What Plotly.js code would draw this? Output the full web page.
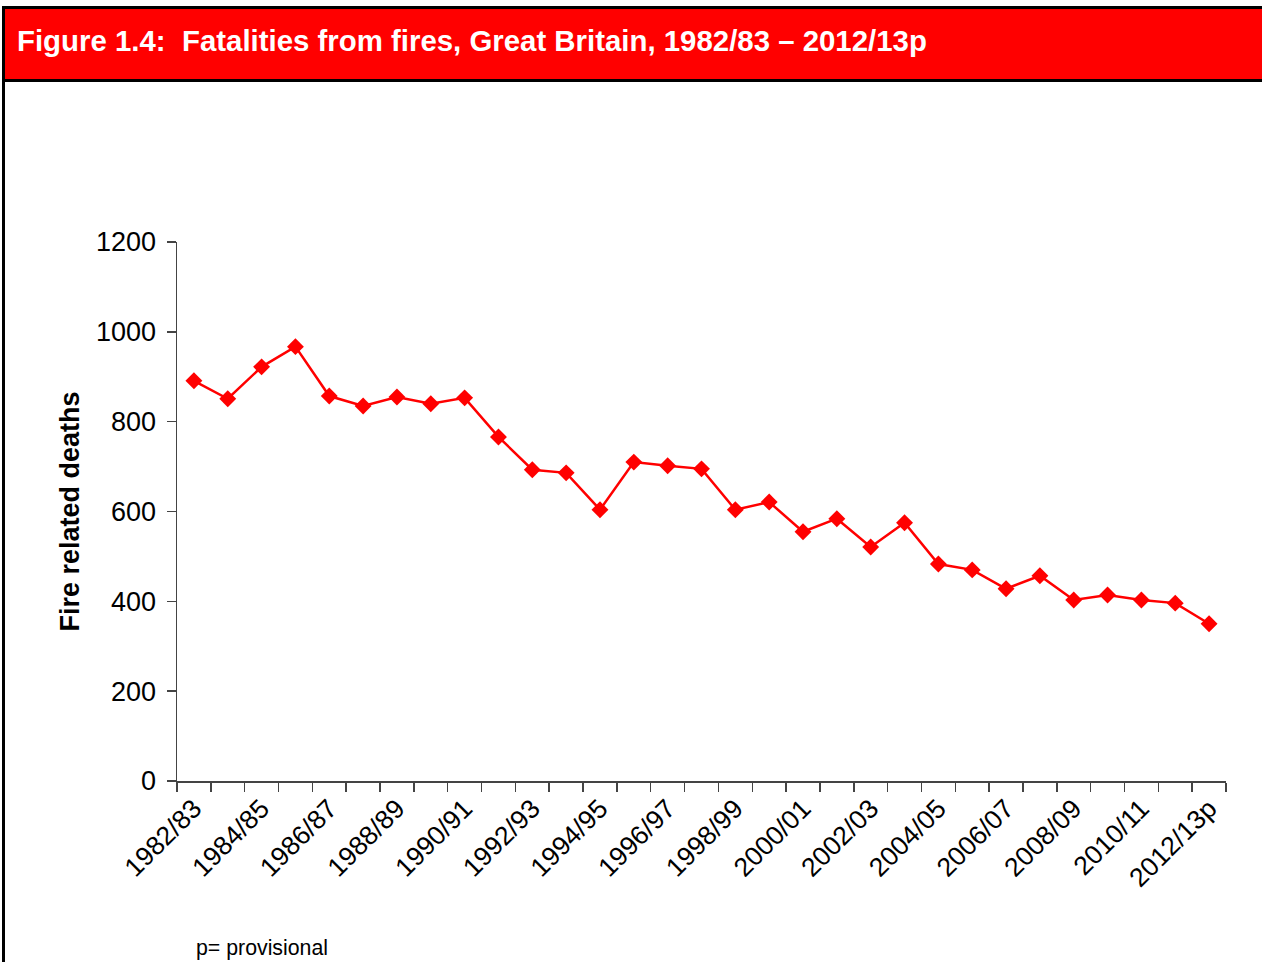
<!DOCTYPE html>
<html>
<head>
<meta charset="utf-8">
<script src="https://cdn.plot.ly/plotly-3.0.1.min.js"></script>
<style>
  html, body { margin: 0; padding: 0; width: 1262px; height: 962px; overflow: hidden; background: #fff; }
  #chart { position: absolute; left: 0; top: 0; width: 1262px; height: 962px; }
  #header { position: absolute; left: 2px; top: 6px; width: 1270px; height: 70px; background: #FF0000;
            border: 3px solid #000; border-right: none; z-index: 5; box-sizing: content-box;
            font-family: "Liberation Sans", Arial, sans-serif; font-weight: bold; font-size: 29.4px; color: #fff;
            white-space: pre; line-height: 64px; padding-left: 12px; }
  #leftline { position: absolute; left: 2px; top: 6px; width: 3px; height: 956px; background: #000; z-index: 4; }
</style>
</head>
<body>
<div id="chart"></div>
<div id="leftline"></div>
<div id="header">Figure 1.4:  Fatalities from fires, Great Britain, 1982/83 – 2012/13p</div>
<script>
const categories = ["1982/83","1983/84","1984/85","1985/86","1986/87","1987/88","1988/89","1989/90","1990/91","1991/92",
  "1992/93","1993/94","1994/95","1995/96","1996/97","1997/98","1998/99","1999/00","2000/01","2001/02",
  "2002/03","2003/04","2004/05","2005/06","2006/07","2007/08","2008/09","2009/10","2010/11","2011/12","2012/13p"];
const deaths = [891, 851, 922, 967, 857, 835, 855, 840, 853, 766,
  693, 686, 604, 710, 702, 695, 604, 621, 555, 584,
  521, 575, 483, 470, 428, 457, 403, 414, 403, 396, 350];
const yTicks = [0, 200, 400, 600, 800, 1000, 1200];
const yTitle = "Fire related deaths";
const footnote = "p= provisional";

const xIdx = categories.map((_, i) => i);
const labelIdx = xIdx.filter(i => i % 2 === 0);
const labelText = labelIdx.map(i => categories[i]);
const boundaries = Array.from({length: categories.length + 1}, (_, i) => i - 0.5);

const axisColor = "#444";
const font = "Liberation Sans, Arial, sans-serif";

const trace = {
  x: xIdx, y: deaths, type: "scatter", mode: "lines+markers",
  line: {color: "#FF0000", width: 2.5},
  marker: {symbol: "diamond", size: 13, color: "#FF0000"},
  text: categories, hoverinfo: "text+y"
};

const layout = {
  width: 1262, height: 962,
  margin: {l: 177, r: 36, t: 242, b: 181},
  paper_bgcolor: "#fff", plot_bgcolor: "#fff",
  showlegend: false,
  font: {family: font, color: "#000"},
  xaxis: {
    range: [-0.5, categories.length - 0.5],
    tickmode: "array", tickvals: labelIdx, ticktext: labelText,
    tickangle: -45, ticks: "", showgrid: false, zeroline: false,
    showline: true, linecolor: axisColor, linewidth: 1.5,
    tickfont: {size: 26.5, family: font, color: "#000"},
    minor: {tickmode: "array", tickvals: boundaries, ticks: "outside", ticklen: 9, tickwidth: 1.5, tickcolor: axisColor, showgrid: false},
    fixedrange: true
  },
  yaxis: {
    range: [0, 1200], tickmode: "array", tickvals: yTicks,
    ticks: "outside", ticklen: 9, tickwidth: 1.5, tickcolor: axisColor,
    ticklabelstandoff: 5,
    showline: true, linecolor: axisColor, linewidth: 1.5,
    showgrid: false, zeroline: false,
    tickfont: {size: 27, family: font, color: "#000"},
    title: {text: yTitle, font: {size: 27, family: font, color: "#000", weight: "bold"}, standoff: 8},
    fixedrange: true
  },
  annotations: [{
    text: footnote, xref: "paper", yref: "paper",
    x: (194 - 177) / 1049, y: -(948 - 781) / 539,
    xanchor: "left", yanchor: "middle", showarrow: false,
    font: {size: 21.3, family: font, color: "#000"}
  }]
};

Plotly.newPlot("chart", [trace], layout, {displayModeBar: false, staticPlot: true});
</script>
</body>
</html>
